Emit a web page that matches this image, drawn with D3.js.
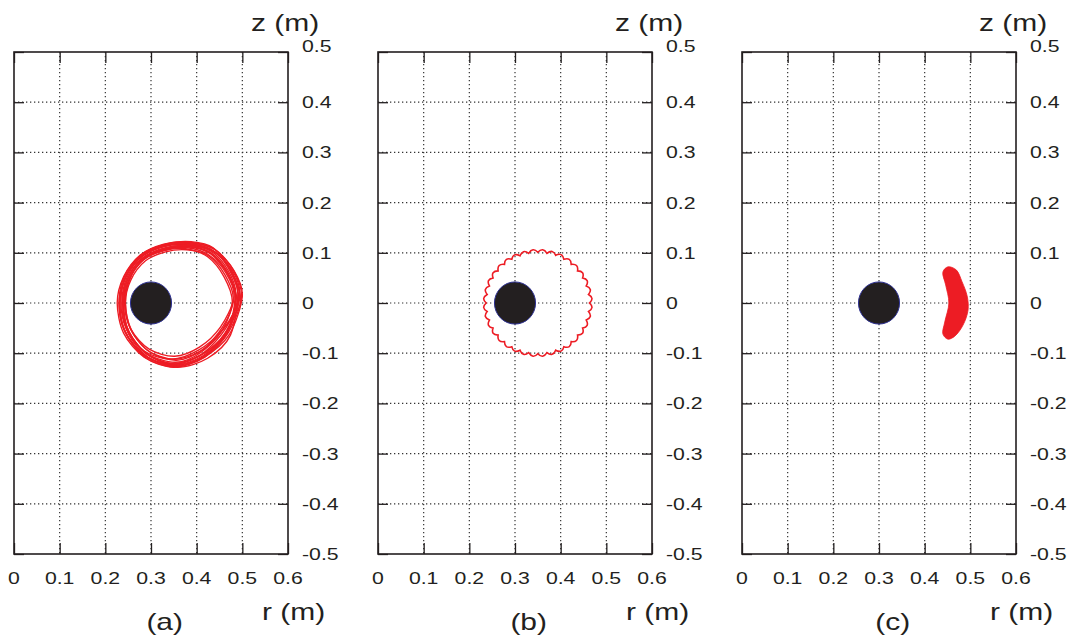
<!DOCTYPE html>
<html>
<head>
<meta charset="utf-8">
<script src="https://cdn.jsdelivr.net/npm/d3@7"></script>
<style>
  html, body { margin: 0; padding: 0; background: #fff; }
  svg { display: block; }
  text { font-family: "Liberation Sans", Arial, Helvetica, sans-serif; fill: #231f20; }
</style>
</head>
<body>
<svg id="chart" width="1071" height="640"></svg>
<script>
// ---- axis definitions ----
const rTicks = [0, 0.1, 0.2, 0.3, 0.4, 0.5, 0.6];
const zTicks = [0.5, 0.4, 0.3, 0.2, 0.1, 0, -0.1, -0.2, -0.3, -0.4, -0.5];
const panelLabels = ["(a)", "(b)", "(c)"];

// ---- conductor cross-section (r, z, half-width r, half-height z) ----
const conductor = { r: 0.30, z: 0.0, hr: 0.045, hz: 0.042 };

// ---- (a) particle orbit: successive poloidal loops (r, z) ----
const orbitLoop1 = [[0.498,0.012],[0.480,0.066],[0.438,0.108],[0.382,0.121],[0.328,0.117],[0.276,0.095],[0.240,0.052],[0.226,0.000],[0.240,-0.060],[0.285,-0.108],[0.350,-0.128],[0.418,-0.108],[0.470,-0.058]];
const orbitLoop2 = [[0.480,0.008],[0.462,0.056],[0.426,0.094],[0.378,0.106],[0.332,0.102],[0.288,0.084],[0.256,0.046],[0.244,0.000],[0.256,-0.052],[0.296,-0.092],[0.352,-0.106],[0.406,-0.088],[0.452,-0.048]];
const orbitLoop3 = [[0.494,0.018],[0.476,0.068],[0.434,0.104],[0.378,0.116],[0.326,0.112],[0.280,0.092],[0.246,0.054],[0.234,0.004],[0.246,-0.052],[0.288,-0.100],[0.346,-0.120],[0.408,-0.104],[0.462,-0.060]];
const orbitLoop4 = [[0.486,0.004],[0.468,0.058],[0.430,0.098],[0.384,0.112],[0.334,0.108],[0.284,0.088],[0.252,0.048],[0.240,-0.004],[0.252,-0.058],[0.292,-0.102],[0.354,-0.122],[0.414,-0.100],[0.464,-0.050]];
const orbitLoop5 = [[0.496,0.000],[0.478,0.060],[0.440,0.102],[0.386,0.118],[0.334,0.114],[0.282,0.094],[0.248,0.052],[0.236,0.000],[0.248,-0.054],[0.286,-0.096],[0.344,-0.112],[0.404,-0.094],[0.458,-0.052]];
const orbitLoop6 = [[0.484,0.016],[0.466,0.064],[0.428,0.102],[0.374,0.112],[0.324,0.106],[0.278,0.086],[0.248,0.046],[0.238,-0.002],[0.252,-0.058],[0.294,-0.104],[0.356,-0.124],[0.420,-0.104],[0.468,-0.056]];
const orbitLoop7 = [[0.492,0.006],[0.474,0.062],[0.436,0.104],[0.380,0.118],[0.328,0.114],[0.276,0.092],[0.244,0.050],[0.232,-0.002],[0.244,-0.058],[0.284,-0.104],[0.348,-0.124],[0.412,-0.106],[0.466,-0.060]];
const orbitLoop8 = [[0.482,0.012],[0.464,0.060],[0.426,0.096],[0.380,0.110],[0.332,0.106],[0.286,0.088],[0.254,0.050],[0.242,0.002],[0.254,-0.050],[0.292,-0.094],[0.350,-0.112],[0.408,-0.096],[0.456,-0.054]];
const orbitLoop9 = [[0.500,0.014],[0.482,0.064],[0.440,0.106],[0.384,0.120],[0.330,0.116],[0.278,0.096],[0.242,0.054],[0.230,0.002],[0.242,-0.056],[0.288,-0.106],[0.352,-0.126],[0.416,-0.108],[0.472,-0.062]];
const orbitLoop10 = [[0.488,0.000],[0.470,0.056],[0.432,0.098],[0.382,0.114],[0.330,0.110],[0.282,0.090],[0.250,0.050],[0.240,0.000],[0.250,-0.054],[0.290,-0.100],[0.354,-0.118],[0.410,-0.098],[0.460,-0.050]];
const orbitLoop11 = [[0.490,0.020],[0.472,0.070],[0.432,0.106],[0.372,0.118],[0.322,0.112],[0.274,0.090],[0.242,0.048],[0.230,-0.006],[0.246,-0.062],[0.290,-0.110],[0.358,-0.128],[0.424,-0.110],[0.474,-0.064]];
const orbitLoop12 = [[0.478,0.002],[0.460,0.052],[0.424,0.092],[0.376,0.108],[0.328,0.104],[0.284,0.086],[0.254,0.048],[0.244,-0.002],[0.258,-0.056],[0.298,-0.098],[0.356,-0.114],[0.412,-0.094],[0.458,-0.046]];
const orbitLoop13 = [[0.494,0.008],[0.476,0.064],[0.436,0.110],[0.388,0.122],[0.336,0.118],[0.284,0.098],[0.246,0.056],[0.232,0.004],[0.242,-0.054],[0.282,-0.102],[0.342,-0.122],[0.406,-0.106],[0.460,-0.064]];
const orbitLoop14 = [[0.486,0.018],[0.468,0.066],[0.430,0.104],[0.376,0.114],[0.326,0.108],[0.280,0.088],[0.250,0.050],[0.238,0.004],[0.250,-0.060],[0.294,-0.108],[0.360,-0.126],[0.422,-0.102],[0.470,-0.052]];
const orbitA = [orbitLoop1, orbitLoop2, orbitLoop3, orbitLoop4, orbitLoop5, orbitLoop6, orbitLoop7,
                orbitLoop8, orbitLoop9, orbitLoop10, orbitLoop11, orbitLoop12, orbitLoop13, orbitLoop14];

// ---- (b) gyrating orbit: guiding points of each gyration (r, z) ----
const orbitB = [
  [0.463,0.000],[0.461,0.017],[0.456,0.034],[0.448,0.050],[0.437,0.064],[0.423,0.077],
  [0.407,0.087],[0.389,0.095],[0.370,0.099],[0.350,0.101],[0.330,0.099],[0.311,0.094],
  [0.293,0.087],[0.277,0.077],[0.263,0.064],[0.252,0.050],[0.244,0.034],[0.239,0.017],
  [0.237,0.000],[0.239,-0.017],[0.244,-0.034],[0.252,-0.050],[0.263,-0.064],[0.277,-0.077],
  [0.293,-0.087],[0.311,-0.094],[0.330,-0.099],[0.350,-0.101],[0.370,-0.099],[0.389,-0.094],
  [0.407,-0.087],[0.423,-0.077],[0.437,-0.064],[0.448,-0.050],[0.456,-0.034],[0.461,-0.017]
];
const orbitBCenter = [0.35, 0.0];

// ---- (c) trapped region outline (r, z) ----
const regionC = [
  [0.451,0.072],[0.469,0.066],[0.482,0.042],[0.493,0.014],[0.495,-0.014],[0.484,-0.044],
  [0.466,-0.066],[0.451,-0.072],[0.440,-0.062],[0.444,-0.038],[0.453,0.000],[0.446,0.036],
  [0.440,0.062]
];

// ---- layout ----
const svg = d3.select("#chart");
const panelW = 274, panelH = 502, plotTop = 52, firstLeft = 14, step = 364;
const stretch = 1.25;               // glyphs are set wide
const ink = "#231f20", red = "#ed1c24";

function fmt(d) {
  if (Math.abs(d) < 1e-9) return "0";
  return (d < 0 ? "-" : "") + Math.abs(d).toFixed(1);
}

function wideText(g, x, y, str, size, anchor) {
  return g.append("text")
    .attr("transform", `translate(${x},${y}) scale(${stretch},1)`)
    .attr("text-anchor", anchor || "start")
    .style("font-size", size + "px")
    .text(str);
}

panelLabels.forEach((lab, i) => {
  const left = firstLeft + i * step;
  const x = d3.scaleLinear().domain([0, 0.6]).range([left, left + panelW]);
  const y = d3.scaleLinear().domain([-0.5, 0.5]).range([plotTop + panelH, plotTop]);
  const g = svg.append("g");

  // dotted grid
  const grid = g.append("g").attr("stroke", "#333").attr("stroke-width", 1.2)
    .attr("stroke-dasharray", "1.3,2.7").attr("fill", "none");
  rTicks.slice(1, -1).forEach(v => {
    grid.append("line").attr("x1", x(v)).attr("x2", x(v)).attr("y1", y(0.5)).attr("y2", y(-0.5));
  });
  zTicks.slice(1, -1).forEach(v => {
    grid.append("line").attr("x1", x(0)).attr("x2", x(0.6)).attr("y1", y(v)).attr("y2", y(v));
  });

  // inward ticks on all four sides
  const tickStyle = s => s.call(a => a.select(".domain").remove())
    .selectAll("line").attr("stroke", ink).attr("stroke-width", 1.3);
  g.append("g").attr("transform", `translate(0,${y(-0.5)})`)
    .call(d3.axisBottom(x).tickValues(rTicks).tickSize(-11).tickFormat(""))
    .call(tickStyle);
  g.append("g").attr("transform", `translate(0,${y(0.5)})`)
    .call(d3.axisTop(x).tickValues(rTicks).tickSize(-11).tickFormat(""))
    .call(tickStyle);
  g.append("g").attr("transform", `translate(${x(0)},0)`)
    .call(d3.axisLeft(y).tickValues(zTicks).tickSize(-10).tickFormat(""))
    .call(tickStyle);
  g.append("g").attr("transform", `translate(${x(0.6)},0)`)
    .call(d3.axisRight(y).tickValues(zTicks).tickSize(-10).tickFormat(""))
    .call(tickStyle);

  // frame
  g.append("rect").attr("x", x(0)).attr("y", y(0.5))
    .attr("width", x(0.6) - x(0)).attr("height", y(-0.5) - y(0.5))
    .attr("fill", "none").attr("stroke", ink).attr("stroke-width", 1.6);

  // tick labels
  rTicks.forEach(v => wideText(g, x(v), 584, fmt(v), 17, "middle"));
  zTicks.forEach(v => wideText(g, x(0.6) + 14, y(v) + 6 - (v === 0.5 ? 6 : 0), fmt(v), 17, "start"));

  // axis titles and panel tag
  wideText(g, x(0.6) - 37, 31, "z (m)", 24, "start");
  wideText(g, x(0.6) - 26, 620, "r (m)", 24, "start");
  wideText(g, x(0.33), 630, lab, 24, "middle");

  const plot = g.append("g");

  if (i === 0) {
    const loop = d3.line().x(d => x(d[0])).y(d => y(d[1])).curve(d3.curveCardinalClosed.tension(0.1));
    plot.selectAll("path.orbit").data(orbitA).join("path")
      .attr("class", "orbit").attr("d", loop)
      .attr("fill", "none").attr("stroke", red).attr("stroke-width", 1.35);
  }

  if (i === 1) {
    // scalloped path: each gyration bulges outward from the guiding circle
    const cx = x(orbitBCenter[0]), cy = y(orbitBCenter[1]);
    const pts = orbitB.map(d => [x(d[0]), y(d[1])]);
    const p = d3.path();
    p.moveTo(pts[0][0], pts[0][1]);
    pts.forEach((a, k) => {
      const b = pts[(k + 1) % pts.length];
      const mx = (a[0] + b[0]) / 2, my = (a[1] + b[1]) / 2;
      const dx = mx - cx, dy = my - cy, len = Math.hypot(dx, dy);
      p.quadraticCurveTo(mx + dx / len * 6, my + dy / len * 6, b[0], b[1]);
    });
    p.closePath();
    plot.append("path").attr("d", p.toString())
      .attr("fill", "none").attr("stroke", red).attr("stroke-width", 1.6);
  }

  if (i === 2) {
    const shape = d3.line().x(d => x(d[0])).y(d => y(d[1])).curve(d3.curveCatmullRomClosed);
    plot.append("path").datum(regionC).attr("d", shape)
      .attr("fill", red).attr("stroke", red).attr("stroke-width", 0.8);
  }

  // conductor
  plot.append("ellipse")
    .attr("cx", x(conductor.r)).attr("cy", y(conductor.z))
    .attr("rx", x(conductor.hr) - x(0)).attr("ry", y(0) - y(conductor.hz))
    .attr("fill", ink).attr("stroke", "#2e3192").attr("stroke-width", 1);
});
</script>
</body>
</html>
